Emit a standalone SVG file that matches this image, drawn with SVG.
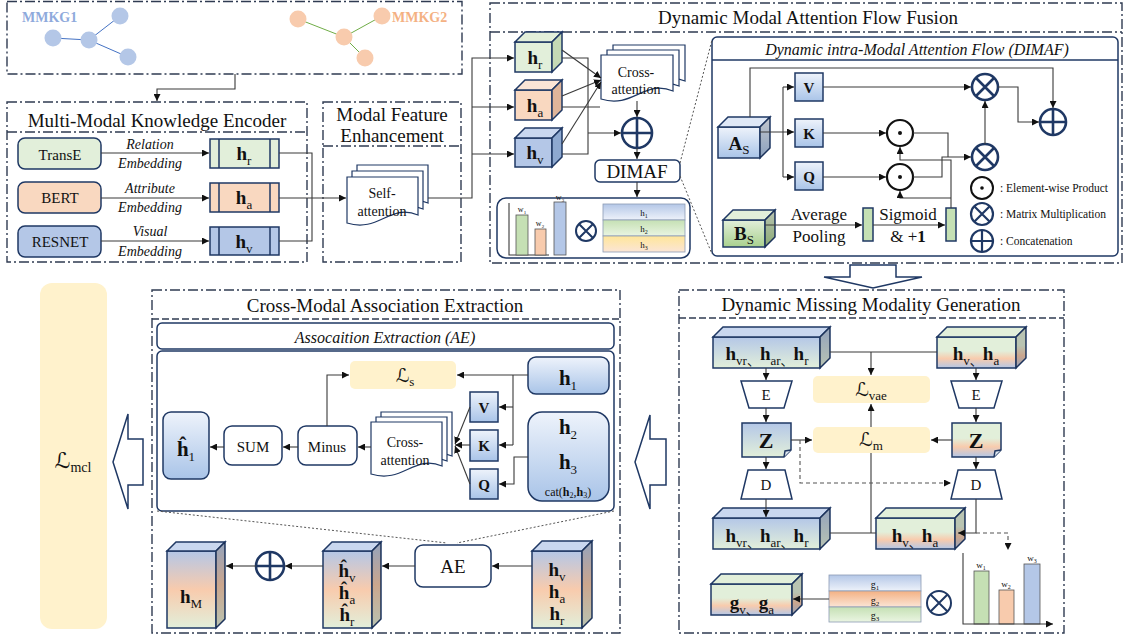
<svg xmlns="http://www.w3.org/2000/svg" width="1126" height="640" viewBox="0 0 1126 640">
<style>
text{font-family:'Liberation Serif','Times New Roman',serif;fill:#111}
.cj{font-family:'Liberation Serif','Noto Sans CJK SC',serif}
.dd{fill:none;stroke:#2f3b52;stroke-width:1.4;stroke-dasharray:10 3 2 3}
.dsh{fill:none;stroke:#2f3b52;stroke-width:1.4;stroke-dasharray:7 3}
.ln{fill:none;stroke:#3a3a3a;stroke-width:1.1}
.ar{marker-end:url(#a)}
.nv{stroke:#1f3864;stroke-width:1.5}
.op{fill:#fff;stroke:#1f3864;stroke-width:2.6}
.opk{fill:#fff;stroke:#111;stroke-width:2.2}
.hb{font-weight:bold}
.sb{font-weight:normal;font-size:13px}
.it{font-style:italic}
.L{font-family:'DejaVu Serif','DejaVu Sans',serif;font-style:italic}
.shade{fill:#000;fill-opacity:.18}
.dot{fill:none;stroke:#555;stroke-width:1;stroke-dasharray:2 2}
.dg{fill:none;stroke:#555;stroke-width:1.1;stroke-dasharray:4 3}
.lb{fill:#fff2cc}
.doc{fill:#fff;stroke:#1f3864;stroke-width:1.2}
</style>
<defs>
<marker id="a" viewBox="0 0 10 10" refX="10" refY="5" markerWidth="7" markerHeight="7" markerUnits="userSpaceOnUse" orient="auto"><path d="M0,0L10,5L0,10z" fill="#111"/></marker>
<linearGradient id="gb" x1="0" y1="0" x2="0" y2="1"><stop offset="0" stop-color="#eef3fb"/><stop offset="1" stop-color="#a9c4e8"/></linearGradient>
<linearGradient id="gbo" x1="0" y1="0" x2="0" y2="1"><stop offset="0" stop-color="#b4c7e7"/><stop offset=".5" stop-color="#f8cbad"/><stop offset="1" stop-color="#e2efda"/></linearGradient>
<linearGradient id="bg" x1="0" y1="0" x2="0" y2="1"><stop offset="0" stop-color="#b4c7e7"/><stop offset="1" stop-color="#e2efda"/></linearGradient>
<linearGradient id="gob" x1="0" y1="0" x2="0" y2="1"><stop offset="0" stop-color="#e2efda"/><stop offset=".45" stop-color="#e2efda"/><stop offset=".7" stop-color="#f8cbad"/><stop offset="1" stop-color="#b4c7e7"/></linearGradient>
<linearGradient id="gg" x1="0" y1="0" x2="0" y2="1"><stop offset="0" stop-color="#e2efda"/><stop offset="1" stop-color="#a9d18e"/></linearGradient>
<linearGradient id="r1" x1="0" y1="0" x2="0" y2="1"><stop offset="0" stop-color="#b4c7e7"/><stop offset="1" stop-color="#eef2fa"/></linearGradient>
<linearGradient id="r2" x1="0" y1="0" x2="0" y2="1"><stop offset="0" stop-color="#c5e0b4"/><stop offset="1" stop-color="#eaf5e2"/></linearGradient>
<linearGradient id="r3" x1="0" y1="0" x2="0" y2="1"><stop offset="0" stop-color="#ffe699"/><stop offset="1" stop-color="#fbe5d6"/></linearGradient>
<linearGradient id="r4" x1="0" y1="0" x2="0" y2="1"><stop offset="0" stop-color="#f4b183"/><stop offset="1" stop-color="#fbe5d6"/></linearGradient>
</defs>

<!-- MMKG -->
<g id="mmkg">
<rect x="7" y="1.5" width="455" height="72.5" fill="#e2efda" class="dd"/>
<path d="M53,38L89,40L120,16M89,40L128,57" fill="none" stroke="#4472c4" stroke-width="1"/>
<path d="M298,19L344,37L382,16M344,37L365,58" fill="none" stroke="#70ad47" stroke-width="1"/>
<g fill="#b4c7e7"><circle cx="53" cy="38" r="8.5"/><circle cx="89" cy="40" r="8.5"/><circle cx="120" cy="16" r="8.5"/><circle cx="128" cy="57" r="8.5"/></g>
<g fill="#f8cbad"><circle cx="298" cy="19" r="8.5"/><circle cx="344" cy="37" r="8.5"/><circle cx="382" cy="16" r="8.5"/><circle cx="365" cy="58" r="8.5"/></g>
<text x="22" y="22" font-size="14" font-weight="bold" style="fill:#8faadc">MMKG1</text>
<text x="392" y="22" font-size="14" font-weight="bold" style="fill:#f4b183">MMKG2</text>
</g>

<!-- Encoder -->
<g id="encoder">
<rect x="7" y="102" width="300" height="160" class="dd"/>
<line x1="7" y1="132" x2="307" y2="132" class="dd"/>
<text x="157" y="127" font-size="19" text-anchor="middle">Multi-Modal Knowledge Encoder</text>
<rect x="18" y="138" width="83" height="31" rx="7" fill="#e2efda" class="nv"/>
<text x="60" y="160" font-size="15" text-anchor="middle">TransE</text>
<rect x="18" y="182" width="83" height="31" rx="7" fill="#f9d8c0" class="nv"/>
<text x="60" y="203" font-size="15" text-anchor="middle">BERT</text>
<rect x="18" y="226" width="83" height="31" rx="7" fill="#b4c7e7" class="nv"/>
<text x="60" y="247" font-size="15" text-anchor="middle">RESNET</text>
<g font-size="14" text-anchor="middle">
<text x="150" y="149" class="it">Relation</text><text x="150" y="168" class="it">Embedding</text>
<text x="150" y="193" class="it">Attribute</text><text x="150" y="212" class="it">Embedding</text>
<text x="150" y="236" class="it">Visual</text><text x="150" y="256" class="it">Embedding</text>
</g>
<rect x="210" y="139" width="69" height="29" fill="#e2efda" class="nv"/>
<rect x="210" y="183" width="69" height="29" fill="#f9d8c0" class="nv"/>
<rect x="210" y="227" width="69" height="28" fill="#b4c7e7" class="nv"/>
<path d="M219,139V168M270,139V168M219,183V212M270,183V212M219,227V255M270,227V255" class="nv" fill="none"/>
<text x="244" y="160" font-size="19" text-anchor="middle"><tspan class="hb">h</tspan><tspan class="sb" dy="5">r</tspan></text>
<text x="244" y="204" font-size="19" text-anchor="middle"><tspan class="hb">h</tspan><tspan class="sb" dy="5">a</tspan></text>
<text x="244" y="248" font-size="19" text-anchor="middle"><tspan class="hb">h</tspan><tspan class="sb" dy="5">v</tspan></text>
</g>

<!-- Modal Feature Enhancement -->
<g id="mfe">
<rect x="323" y="102" width="138" height="160" class="dd"/>
<line x1="323" y1="146" x2="461" y2="146" class="dd"/>
<text x="392" y="121" font-size="19" text-anchor="middle">Modal Feature</text>
<text x="392" y="142" font-size="19" text-anchor="middle">Enhancement</text>
<path d="M357,165H428V203C400,191 389,221 357,211Z" class="doc"/>
<path d="M352,171H423V209C395,197 384,227 352,217Z" class="doc"/>
<path d="M347,177H418V215C390,203 379,233 347,223Z" class="doc"/>
<text x="382" y="198" font-size="14" text-anchor="middle">Self-</text>
<text x="382" y="216" font-size="14" text-anchor="middle">attention</text>
</g>

<!-- DMAF outer -->
<g id="dmaf">
<rect x="490" y="3" width="632" height="260" class="dd"/>
<line x1="490" y1="32" x2="1122" y2="32" class="dd"/>
<text x="808" y="24" font-size="19" text-anchor="middle">Dynamic Modal Attention Flow Fusion</text>
<rect x="515" y="42" width="37" height="30" fill="#e2efda" class="nv"/>
<path d="M515,42L525,32L562,32L552,42Z" fill="#e2efda" class="nv"/>
<path d="M552,42L562,32L562,62L552,72Z" fill="#c5d9b5" class="nv"/>
<rect x="515" y="90" width="37" height="30" fill="#f9d8c0" class="nv"/>
<path d="M515,90L525,80L562,80L552,90Z" fill="#fbe5d6" class="nv"/>
<path d="M552,90L562,80L562,110L552,120Z" fill="#dfb59a" class="nv"/>
<rect x="515" y="138" width="37" height="29" fill="#b4c7e7" class="nv"/>
<path d="M515,138L525,128L562,128L552,138Z" fill="#c9d7ef" class="nv"/>
<path d="M552,138L562,128L562,157L552,167Z" fill="#8ea9d0" class="nv"/>
<text x="535" y="64" font-size="19" text-anchor="middle"><tspan class="hb">h</tspan><tspan class="sb" dy="5">r</tspan></text>
<text x="535" y="112" font-size="19" text-anchor="middle"><tspan class="hb">h</tspan><tspan class="sb" dy="5">a</tspan></text>
<text x="535" y="159" font-size="19" text-anchor="middle"><tspan class="hb">h</tspan><tspan class="sb" dy="5">v</tspan></text>
<path d="M613,45H685V81C656,69 645,99 613,89Z" class="doc"/>
<path d="M607,50H679V86C650,74 639,104 607,94Z" class="doc"/>
<path d="M601,55H673V91C644,79 633,109 601,99Z" class="doc"/>
<text x="636" y="77" font-size="14" text-anchor="middle">Cross-</text>
<text x="636" y="94" font-size="14" text-anchor="middle">attention</text>
<circle cx="637" cy="133" r="15" class="op"/><path d="M622,133H652M637,118V148" class="op"/>
<rect x="595" y="160" width="85" height="22" rx="5" fill="#fff" class="nv"/>
<text x="637" y="178" font-size="19" text-anchor="middle">DIMAF</text>
<rect x="497" y="198" width="193" height="60" rx="9" fill="#fff" class="nv"/>
<path d="M509,203V255H549" class="ln"/>
<rect x="516" y="215" width="12" height="40" fill="#c5e0b4" stroke="#555" stroke-width=".8"/>
<rect x="535" y="229" width="11" height="26" fill="#f8cbad" stroke="#555" stroke-width=".8"/>
<rect x="554" y="202" width="12" height="53" fill="#b4c7e7" stroke="#555" stroke-width=".8"/>
<text x="522" y="212" font-size="8" text-anchor="middle">w<tspan font-size="5" dy="2">1</tspan></text>
<text x="540" y="226" font-size="8" text-anchor="middle">w<tspan font-size="5" dy="2">2</tspan></text>
<text x="560" y="200" font-size="8" text-anchor="middle">w<tspan font-size="5" dy="2">3</tspan></text>
<circle cx="586" cy="231" r="10" class="op" style="stroke-width:2"/><path d="M579,224L593,238M593,224L579,238" class="op" style="stroke-width:2"/>
<rect x="603" y="204" width="82" height="16" fill="url(#r1)" stroke="#8c9bb5" stroke-width=".8"/>
<rect x="603" y="220" width="82" height="16" fill="url(#r2)" stroke="#8c9bb5" stroke-width=".8"/>
<rect x="603" y="236" width="82" height="16" fill="url(#r3)" stroke="#8c9bb5" stroke-width=".8"/>
<text x="644" y="216" font-size="9" text-anchor="middle">h<tspan font-size="6" dy="2">1</tspan></text>
<text x="644" y="232" font-size="9" text-anchor="middle">h<tspan font-size="6" dy="2">2</tspan></text>
<text x="644" y="248" font-size="9" text-anchor="middle">h<tspan font-size="6" dy="2">3</tspan></text>
</g>

<!-- DIMAF detail -->
<g id="dimaf">
<rect x="712" y="37" width="406" height="219" rx="5" fill="#fff" class="nv"/>
<line x1="712" y1="60" x2="1118" y2="60" class="nv"/>
<text x="917" y="55" font-size="16" class="it" text-anchor="middle">Dynamic intra-Modal Attention Flow (DIMAF)</text>
<rect x="718" y="127" width="42" height="31" fill="url(#gb)" class="nv"/>
<path d="M718,127L728,117L770,117L760,127Z" fill="#dfe8f6" class="nv"/>
<path d="M760,127L770,117L770,148L760,158Z" fill="url(#gb)" class="nv"/>
<path d="M760,127L770,117L770,148L760,158Z" class="shade"/>
<text x="739" y="150" font-size="19" text-anchor="middle"><tspan class="hb">A</tspan><tspan class="sb" dy="4">S</tspan></text>
<rect x="723" y="220" width="42" height="27" fill="url(#gg)" class="nv"/>
<path d="M723,220L733,210L775,210L765,220Z" fill="#e2efda" class="nv"/>
<path d="M765,220L775,210L775,237L765,247Z" fill="url(#gg)" class="nv"/>
<path d="M765,220L775,210L775,237L765,247Z" class="shade"/>
<text x="744" y="240" font-size="19" text-anchor="middle"><tspan class="hb">B</tspan><tspan class="sb" dy="4">S</tspan></text>
<rect x="795" y="73" width="28" height="28" fill="url(#gb)" class="nv"/>
<rect x="795" y="119" width="28" height="28" fill="url(#gb)" class="nv"/>
<rect x="795" y="162" width="28" height="28" fill="url(#gb)" class="nv"/>
<text x="809" y="93" font-size="15" class="hb" text-anchor="middle">V</text>
<text x="809" y="139" font-size="15" class="hb" text-anchor="middle">K</text>
<text x="809" y="182" font-size="15" class="hb" text-anchor="middle">Q</text>
<circle cx="900" cy="133" r="13" class="opk"/><circle cx="900" cy="133" r="2" fill="#111"/>
<circle cx="900" cy="177" r="13" class="opk"/><circle cx="900" cy="177" r="2" fill="#111"/>
<circle cx="985" cy="87" r="13" class="op"/><path d="M976,78L994,96M994,78L976,96" class="op"/>
<circle cx="985" cy="157" r="13" class="op"/><path d="M976,148L994,166M994,148L976,166" class="op"/>
<circle cx="1053" cy="122" r="13" class="op"/><path d="M1040,122H1066M1053,109V135" class="op"/>
<rect x="863" y="208" width="10" height="33" fill="#c5e0b4" class="nv"/>
<rect x="946" y="208" width="10" height="33" fill="#c5e0b4" class="nv"/>
<text x="819" y="220" font-size="17" text-anchor="middle">Average</text>
<text x="819" y="242" font-size="17" text-anchor="middle">Pooling</text>
<text x="908" y="220" font-size="17" text-anchor="middle">Sigmoid</text>
<text x="908" y="242" font-size="17" text-anchor="middle">&amp; +<tspan font-weight="bold">1</tspan></text>
<circle cx="982" cy="188" r="11" class="opk" style="stroke-width:2"/><circle cx="982" cy="188" r="1.8" fill="#111"/>
<circle cx="982" cy="214" r="11" class="op" style="stroke-width:2.2"/><path d="M974,206L990,222M990,206L974,222" class="op" style="stroke-width:2.2"/>
<circle cx="982" cy="241" r="11" class="op" style="stroke-width:2.2"/><path d="M971,241H993M982,230V252" class="op" style="stroke-width:2.2"/>
<text x="1000" y="192" font-size="11.5">:  Element-wise Product</text>
<text x="1000" y="218" font-size="11.5">:  Matrix Multiplication</text>
<text x="1000" y="245" font-size="11.5">:  Concatenation</text>
</g>

<!-- Block arrows -->
<g id="blockarrows" fill="#fff" stroke="#1f3864" stroke-width="1.5">
<path d="M850,265H896V277H922L873,288L824,277H850Z"/>
<path d="M113,462L128,414V439H143V485H128V509Z"/>
<path d="M635,462L650,415V439H666V485H650V509Z"/>
</g>

<!-- L_mcl -->
<g id="lmcl">
<rect x="40" y="283" width="67" height="346" rx="12" class="lb"/>
<text x="73" y="468" font-size="22" text-anchor="middle"><tspan class="L">ℒ</tspan><tspan font-size="14" dy="4">mcl</tspan></text>
</g>

<!-- Cross-Modal Association Extraction -->
<g id="cmae">
<rect x="152" y="290" width="468" height="343" class="dd"/>
<line x1="152" y1="319" x2="620" y2="319" class="dsh"/>
<text x="385" y="312" font-size="19" text-anchor="middle">Cross-Modal Association Extraction</text>
<rect x="157" y="323" width="457" height="26" rx="5" fill="#fff" class="nv"/>
<text x="385" y="343" font-size="16" class="it" text-anchor="middle">Assocaition Extraction (AE)</text>
<rect x="157" y="351" width="457" height="160" rx="5" fill="#fff" class="nv"/>
<rect x="350" y="361" width="106" height="28" rx="5" class="lb"/>
<text x="405" y="382" font-size="19" text-anchor="middle"><tspan class="L">ℒ</tspan><tspan font-size="13" dy="4">s</tspan></text>
<rect x="528" y="357" width="81" height="37" rx="8" fill="url(#gb)" class="nv"/>
<text x="568" y="385" font-size="21" text-anchor="middle"><tspan class="hb">h</tspan><tspan class="sb" dy="5">1</tspan></text>
<rect x="528" y="412" width="81" height="89" rx="14" fill="url(#gb)" class="nv"/>
<text x="568" y="434" font-size="21" text-anchor="middle"><tspan class="hb">h</tspan><tspan class="sb" dy="5">2</tspan></text>
<text x="568" y="469" font-size="21" text-anchor="middle"><tspan class="hb">h</tspan><tspan class="sb" dy="5">3</tspan></text>
<text x="568" y="496" font-size="12" text-anchor="middle">cat(<tspan font-weight="bold">h</tspan><tspan font-size="8" dy="2">2</tspan><tspan dy="-2">,</tspan><tspan font-weight="bold">h</tspan><tspan font-size="8" dy="2">3</tspan><tspan dy="-2">)</tspan></text>
<rect x="470" y="392" width="28" height="30" fill="url(#gb)" class="nv"/>
<rect x="470" y="430" width="28" height="31" fill="url(#gb)" class="nv"/>
<rect x="470" y="469" width="28" height="30" fill="url(#gb)" class="nv"/>
<text x="484" y="413" font-size="15" class="hb" text-anchor="middle">V</text>
<text x="484" y="451" font-size="15" class="hb" text-anchor="middle">K</text>
<text x="484" y="490" font-size="15" class="hb" text-anchor="middle">Q</text>
<path d="M381,412H452V456C424,444 413,474 381,464Z" class="doc"/>
<path d="M376,417H447V461C419,449 408,479 376,469Z" class="doc"/>
<path d="M371,422H442V466C414,454 403,484 371,474Z" class="doc"/>
<text x="405" y="447" font-size="14" text-anchor="middle">Cross-</text>
<text x="405" y="465" font-size="14" text-anchor="middle">attention</text>
<rect x="298" y="426" width="59" height="39" rx="8" fill="#fff" class="nv"/>
<text x="327" y="452" font-size="15" text-anchor="middle">Minus</text>
<rect x="224" y="426" width="58" height="39" rx="8" fill="#fff" class="nv"/>
<text x="253" y="452" font-size="15" text-anchor="middle">SUM</text>
<rect x="163" y="412" width="46" height="67" rx="8" fill="url(#gb)" class="nv"/>
<text x="186" y="456" font-size="21" text-anchor="middle"><tspan class="hb">ĥ</tspan><tspan class="sb" dy="5">1</tspan></text>
<rect x="532" y="551" width="50" height="77" fill="url(#gbo)" class="nv"/>
<path d="M532,551L542,541L592,541L582,551Z" fill="#c9d7ef" class="nv"/>
<path d="M582,551L592,541L592,618L582,628Z" fill="url(#gbo)" class="nv"/>
<path d="M582,551L592,541L592,618L582,628Z" class="shade"/>
<text x="557" y="576" font-size="19" text-anchor="middle"><tspan class="hb">h</tspan><tspan class="sb" dy="5">v</tspan></text>
<text x="557" y="598" font-size="19" text-anchor="middle"><tspan class="hb">h</tspan><tspan class="sb" dy="5">a</tspan></text>
<text x="557" y="620" font-size="19" text-anchor="middle"><tspan class="hb">h</tspan><tspan class="sb" dy="5">r</tspan></text>
<rect x="415" y="545" width="76" height="42" rx="8" fill="#fff" class="nv"/>
<text x="453" y="573" font-size="19" text-anchor="middle">AE</text>
<rect x="323" y="551" width="49" height="77" fill="url(#gbo)" class="nv"/>
<path d="M323,551L332,542L381,542L372,551Z" fill="#c9d7ef" class="nv"/>
<path d="M372,551L381,542L381,619L372,628Z" fill="url(#gbo)" class="nv"/>
<path d="M372,551L381,542L381,619L372,628Z" class="shade"/>
<text x="347" y="577" font-size="19" text-anchor="middle"><tspan class="hb">ĥ</tspan><tspan class="sb" dy="5">v</tspan></text>
<text x="347" y="599" font-size="19" text-anchor="middle"><tspan class="hb">ĥ</tspan><tspan class="sb" dy="5">a</tspan></text>
<text x="347" y="621" font-size="19" text-anchor="middle"><tspan class="hb">ĥ</tspan><tspan class="sb" dy="5">r</tspan></text>
<circle cx="270" cy="566" r="14" class="op"/><path d="M256,566H284M270,552V580" class="op"/>
<rect x="167" y="551" width="49" height="77" fill="url(#gbo)" class="nv"/>
<path d="M167,551L176,542L225,542L216,551Z" fill="#c9d7ef" class="nv"/>
<path d="M216,551L225,542L225,619L216,628Z" fill="url(#gbo)" class="nv"/>
<path d="M216,551L225,542L225,619L216,628Z" class="shade"/>
<text x="191" y="603" font-size="19" text-anchor="middle"><tspan class="hb">h</tspan><tspan class="sb" dy="5">M</tspan></text>
</g>

<!-- Dynamic Missing Modality Generation -->
<g id="dmmg">
<rect x="679" y="290" width="385" height="343" class="dd"/>
<line x1="679" y1="318" x2="1064" y2="318" class="dsh"/>
<text x="871" y="311" font-size="19" text-anchor="middle">Dynamic Missing Modality Generation</text>
<rect x="713" y="337" width="107" height="31" fill="url(#bg)" class="nv"/>
<path d="M713,337L723,327L830,327L820,337Z" fill="#c9d7ef" class="nv"/>
<path d="M820,337L830,327L830,358L820,368Z" fill="url(#bg)" class="nv"/>
<path d="M820,337L830,327L830,358L820,368Z" class="shade"/>
<text x="767" y="360" font-size="19" text-anchor="middle" class="cj"><tspan class="hb">h</tspan><tspan class="sb" dy="5">vr、</tspan><tspan class="hb" dy="-5">h</tspan><tspan class="sb" dy="5">ar、</tspan><tspan class="hb" dy="-5">h</tspan><tspan class="sb" dy="5">r</tspan></text>
<rect x="937" y="337" width="79" height="31" fill="url(#gob)" class="nv"/>
<path d="M937,337L947,327L1026,327L1016,337Z" fill="#e2efda" class="nv"/>
<path d="M1016,337L1026,327L1026,358L1016,368Z" fill="url(#gob)" class="nv"/>
<path d="M1016,337L1026,327L1026,358L1016,368Z" class="shade"/>
<text x="976" y="360" font-size="19" text-anchor="middle" class="cj"><tspan class="hb">h</tspan><tspan class="sb" dy="5">v、</tspan><tspan class="hb" dy="-5">h</tspan><tspan class="sb" dy="5">a</tspan></text>
<rect x="813" y="376" width="117" height="27" rx="5" class="lb"/>
<text x="871" y="396" font-size="19" text-anchor="middle"><tspan class="L">ℒ</tspan><tspan font-size="13" dy="4">vae</tspan></text>
<rect x="813" y="427" width="117" height="26" rx="5" class="lb"/>
<text x="871" y="446" font-size="19" text-anchor="middle"><tspan class="L">ℒ</tspan><tspan font-size="13" dy="4">m</tspan></text>
<path d="M741,381H792L784,408H749Z" fill="#fff" class="nv"/>
<text x="766" y="400" font-size="15" text-anchor="middle">E</text>
<path d="M951,381H1002L994,408H959Z" fill="#fff" class="nv"/>
<text x="976" y="400" font-size="15" text-anchor="middle">E</text>
<path d="M742,423H791V450L784,457H742Z" fill="url(#bg)" class="nv"/>
<path d="M791,450L785,451L784,457" fill="#dfe8f0" class="nv"/>
<text x="766" y="448" font-size="22" class="hb" text-anchor="middle">Z</text>
<path d="M952,423H1001V450L994,457H952Z" fill="url(#gob)" class="nv"/>
<path d="M1001,450L995,451L994,457" fill="#dfe8f0" class="nv"/>
<text x="976" y="448" font-size="22" class="hb" text-anchor="middle">Z</text>
<path d="M748,470H785L792,499H741Z" fill="#fff" class="nv"/>
<text x="766" y="490" font-size="15" text-anchor="middle">D</text>
<path d="M958,470H995L1002,499H951Z" fill="#fff" class="nv"/>
<text x="976" y="490" font-size="15" text-anchor="middle">D</text>
<rect x="713" y="518" width="107" height="31" fill="url(#bg)" class="nv"/>
<path d="M713,518L723,508L830,508L820,518Z" fill="#c9d7ef" class="nv"/>
<path d="M820,518L830,508L830,539L820,549Z" fill="url(#bg)" class="nv"/>
<path d="M820,518L830,508L830,539L820,549Z" class="shade"/>
<text x="767" y="542" font-size="19" text-anchor="middle" class="cj"><tspan class="hb">h</tspan><tspan class="sb" dy="5">vr、</tspan><tspan class="hb" dy="-5">h</tspan><tspan class="sb" dy="5">ar、</tspan><tspan class="hb" dy="-5">h</tspan><tspan class="sb" dy="5">r</tspan></text>
<rect x="876" y="518" width="79" height="31" fill="url(#gob)" class="nv"/>
<path d="M876,518L886,508L965,508L955,518Z" fill="#e2efda" class="nv"/>
<path d="M955,518L965,508L965,539L955,549Z" fill="url(#gob)" class="nv"/>
<path d="M955,518L965,508L965,539L955,549Z" class="shade"/>
<text x="915" y="542" font-size="19" text-anchor="middle" class="cj"><tspan class="hb">h</tspan><tspan class="sb" dy="5">v、</tspan><tspan class="hb" dy="-5">h</tspan><tspan class="sb" dy="5">a</tspan></text>
<rect x="711" y="584" width="81" height="31" fill="url(#gob)" class="nv"/>
<path d="M711,584L721,574L802,574L792,584Z" fill="#e2efda" class="nv"/>
<path d="M792,584L802,574L802,605L792,615Z" fill="url(#gob)" class="nv"/>
<path d="M792,584L802,574L802,605L792,615Z" class="shade"/>
<text x="752" y="609" font-size="19" text-anchor="middle" class="cj"><tspan class="hb">g</tspan><tspan class="sb" dy="5">v、</tspan><tspan class="hb" dy="-5">g</tspan><tspan class="sb" dy="5">a</tspan></text>
<rect x="829" y="575" width="92" height="16" fill="url(#r1)" stroke="#8c9bb5" stroke-width=".8"/>
<rect x="829" y="591" width="92" height="16" fill="url(#r4)" stroke="#8c9bb5" stroke-width=".8"/>
<rect x="829" y="607" width="92" height="15" fill="url(#r2)" stroke="#8c9bb5" stroke-width=".8"/>
<text x="875" y="588" font-size="10" text-anchor="middle">g<tspan font-size="7" dy="2">1</tspan></text>
<text x="875" y="604" font-size="10" text-anchor="middle">g<tspan font-size="7" dy="2">2</tspan></text>
<text x="875" y="619" font-size="10" text-anchor="middle">g<tspan font-size="7" dy="2">3</tspan></text>
<circle cx="939" cy="603" r="12" class="op" style="stroke-width:2"/><path d="M930.5,594.5L947.5,611.5M947.5,594.5L930.5,611.5" class="op" style="stroke-width:2"/>
<rect x="974" y="571" width="15" height="53" fill="#c5e0b4" stroke="#555" stroke-width=".8"/>
<rect x="999" y="590" width="15" height="34" fill="#f8cbad" stroke="#555" stroke-width=".8"/>
<rect x="1024" y="564" width="16" height="60" fill="#b4c7e7" stroke="#555" stroke-width=".8"/>
<text x="981" y="568" font-size="9" text-anchor="middle">w<tspan font-size="6" dy="2">1</tspan></text>
<text x="1006" y="587" font-size="9" text-anchor="middle">w<tspan font-size="6" dy="2">2</tspan></text>
<text x="1032" y="561" font-size="9" text-anchor="middle">w<tspan font-size="6" dy="2">3</tspan></text>
</g>

<!-- connectors -->
<g id="connectors">
<path d="M235,74V89H157V101" class="ln ar"/>
<path d="M101,153H209" class="ln ar"/>
<path d="M101,198H209" class="ln ar"/>
<path d="M101,241H209" class="ln ar"/>
<path d="M279,153H312V241H279" class="ln"/>
<path d="M279,198H346" class="ln ar"/>
<path d="M428,198H472V58H514" class="ln ar"/>
<path d="M472,107H514" class="ln ar"/>
<path d="M472,154H514" class="ln ar"/>
<path d="M562,58H588V154H562" class="ln"/>
<path d="M562,107H600" class="ln"/>
<path d="M588,133H621" class="ln ar"/>
<path d="M562,50L601,78" class="ln ar"/>
<path d="M562,96L601,80" class="ln ar"/>
<path d="M562,144L601,82" class="ln ar"/>
<path d="M637,101V117" class="ln ar"/>
<path d="M637,148V159" class="ln ar"/>
<path d="M637,182V197" class="ln ar"/>
<path d="M680,163L712,40M680,176L712,254" class="dot"/>
<path d="M750,117V68H1053V108" class="ln ar"/>
<path d="M760,132H794" class="ln ar"/>
<path d="M783,87V177" class="ln"/>
<path d="M783,87H794" class="ln ar"/>
<path d="M783,177H794" class="ln ar"/>
<path d="M823,87H971" class="ln ar"/>
<path d="M998,87H1018V122H1039" class="ln ar"/>
<path d="M823,133H886" class="ln ar"/>
<path d="M823,177H886" class="ln ar"/>
<path d="M913,133H948V157" class="ln"/>
<path d="M913,177H942V157H971" class="ln ar"/>
<path d="M985,144V101" class="ln ar"/>
<path d="M765,225H862" class="ln ar"/>
<path d="M873,225H945" class="ln ar"/>
<path d="M951,208V160H900V147" class="ln ar"/>
<path d="M951,198H900V191" class="ln ar"/>
<path d="M528,375H457" class="ln ar"/>
<path d="M513,375V445" class="ln"/>
<path d="M513,407H499" class="ln ar"/>
<path d="M513,445H499" class="ln ar"/>
<path d="M528,457H514V484H499" class="ln ar"/>
<path d="M470,407L455,444" class="ln ar"/>
<path d="M470,445H455" class="ln ar"/>
<path d="M470,484L455,446" class="ln ar"/>
<path d="M371,447H358" class="ln ar"/>
<path d="M327,426V375H349" class="ln ar"/>
<path d="M298,447H283" class="ln ar"/>
<path d="M224,447H210" class="ln ar"/>
<path d="M157,511L447,543M614,511L457,543" class="dot"/>
<path d="M532,566H492" class="ln ar"/>
<path d="M415,566H382" class="ln ar"/>
<path d="M323,566H285" class="ln ar"/>
<path d="M256,566H226" class="ln ar"/>
<path d="M830,352H937" class="ln"/>
<path d="M871,352V375" class="ln ar"/>
<path d="M871,427V404" class="ln ar"/>
<path d="M871,453V533" class="ln"/>
<path d="M830,533H876" class="ln"/>
<path d="M766,368V380" class="ln ar"/>
<path d="M766,408V422" class="ln ar"/>
<path d="M791,440H812" class="ln ar"/>
<path d="M800,440V483H951" class="dg ar"/>
<path d="M766,457V469" class="ln ar"/>
<path d="M766,499V517" class="ln ar"/>
<path d="M976,368V380" class="ln ar"/>
<path d="M976,408V422" class="ln ar"/>
<path d="M952,440H931" class="ln ar"/>
<path d="M976,457V469" class="ln ar"/>
<path d="M976,499V533H958" class="ln ar"/>
<path d="M976,533H1008V550" class="dg ar"/>
<path d="M963,553V624H1053" class="ln ar"/>
<path d="M829,599H793" class="ln ar"/>
</g>
</svg>
